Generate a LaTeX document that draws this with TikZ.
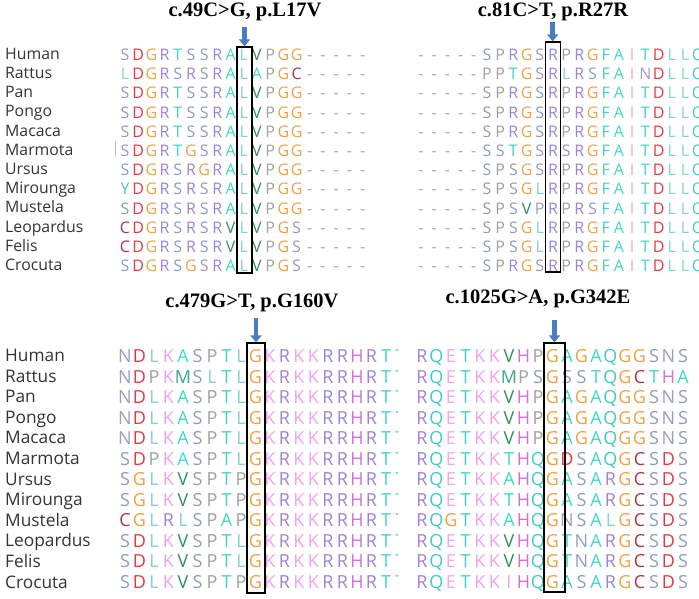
\documentclass[tikz,border=0pt]{standalone}
\usepackage{fontspec}
\usepackage{tikz}
\usetikzlibrary{arrows.meta}
\newfontfamily\seqfont{Open Sans}
\newfontfamily\capfont{Liberation Serif}

% residue colours
\definecolor{resA}{HTML}{3FD8C6}
\definecolor{resC}{HTML}{A8344E}
\definecolor{resD}{HTML}{E23A45}
\definecolor{resE}{HTML}{F0A8E8}
\definecolor{resF}{HTML}{45CEC8}
\definecolor{resG}{HTML}{EDA244}
\definecolor{resH}{HTML}{D46ED8}
\definecolor{resI}{HTML}{F2A6D6}
\definecolor{resK}{HTML}{EEA2EC}
\definecolor{resL}{HTML}{86CFD2}
\definecolor{resM}{HTML}{3AA58C}
\definecolor{resN}{HTML}{9A9CC2}
\definecolor{resP}{HTML}{A0A0A0}
\definecolor{resQ}{HTML}{3ECBC0}
\definecolor{resR}{HTML}{9F82D6}
\definecolor{resS}{HTML}{8E9CB8}
\definecolor{resT}{HTML}{3FD2C4}
\definecolor{resV}{HTML}{2F8F5A}
\definecolor{resY}{HTML}{3CC6C0}
\definecolor{gapgray}{HTML}{A8A8A8}
\definecolor{mutblue}{HTML}{4A7CC4}

\def\resfont{\fontsize{16}{16}\selectfont}

\tikzset{
  species/.style={anchor=base west, inner sep=0pt, text=black!80},
  residue/.style={anchor=base, inner sep=0pt, font=\seqfont\resfont},
  caption/.style={anchor=base, inner sep=0pt, font=\capfont\bfseries\fontsize{20.5}{20.5}\selectfont},
  colbox/.style={draw=black, line width=1.3pt, inner sep=0pt},
  mutarrow/.style={draw=mutblue, line width=4.5pt, -{Triangle[width=11pt,length=7pt]}}
}

% one row of residues: #1 row name, #2 first x, #3 baseline, #4 cell width, #5 residues
\newcommand\seqrow[5]{%
  \def\rowname{#1}\def\resx{#2}\def\resy{#3}\def\resw{#4}\def\resk{0}%
  \expandafter\putres#5\relax}
\def\putres#1{%
  \ifx#1\relax\else
    \if#1-\node[residue,text=gapgray] (\rowname-\resk) at (\resx,\resy) {-};%
    \else\node[residue,text=res#1] (\rowname-\resk) at (\resx,\resy) {#1};\fi
    \pgfmathsetmacro\resx{\resx+\resw}%
    \pgfmathtruncatemacro\resk{\resk+1}%
    \expandafter\putres
  \fi}

\begin{document}
\begin{tikzpicture}[x=1pt,y=-1pt]
\useasboundingbox (0,0) rectangle (699,598);

% top alignment
\foreach \sp/\seqa/\seqb [count=\i from 0] in {
  Human/SDGRTSSRALVPGG-----/-----SPRGSRPRGFAITDLLQ,
  Rattus/LDGRSRSRALAPGC-----/-----PPTGSRLRSFAINDLLQ,
  Pan/SDGRTSSRALVPGG-----/-----SPRGSRPRGFAITDLLQ,
  Pongo/SDGRTSSRALVPGG-----/-----SPRGSRPRGFAITDLLQ,
  Macaca/SDGRTSSRALVPGG-----/-----SPRGSRPRGFAITDLLQ,
  Marmota/SDGRTGSRALVPGG-----/-----SSTGSRSRGFAITDLLQ,
  Ursus/SDGRSRGRALVPGG-----/-----SPSGSRPRGFAITDLLQ,
  Mirounga/YDGRSRSRALVPGG-----/-----SPSGLRPRGFAITDLLQ,
  Mustela/SDGRSRSRALVPGG-----/-----SPSVPRPRSFAITDLLQ,
  Leopardus/CDGRSRSRVLVPGS-----/-----SPSGLRPRGFAITDLLQ,
  Felis/CDGRSRSRVLVPGS-----/-----SPSGLRPRGFAITDLLQ,
  Crocuta/SDGRSGSRALVPGS-----/-----SPRGSRPRGFAITDLLQ}{
    \node[species, font=\seqfont\fontsize{15.8}{15.8}\selectfont] (top-\sp) at (5,59.3+19.2*\i) {\sp};
    \pgfmathsetmacro\yb{60.5+19.2*\i}
    \seqrow{tl\i}{125}{\yb}{13.2}{\seqa}
    \seqrow{tr\i}{421}{\yb}{13.2}{\seqb}
}
% cursor mark
\draw[black!25, line width=0.6pt] (115,141) -- (115,157);

% bottom alignment
\def\resfont{\fontsize{18}{18}\selectfont}
\foreach \sp/\seqa/\seqb [count=\i from 0] in {
  Human/NDLKASPTLGKRKKRRHRTT/RQETKKVHPGAGAQGGSNS,
  Rattus/NDPKMSLTLGKRKKRRHRTT/RQETKKMPSGSSTQGCTHA,
  Pan/NDLKASPTLGKRKKRRHRTT/RQETKKVHPGAGAQGGSNS,
  Pongo/NDLKASPTLGKRKKRRHRTT/RQETKKVHPGAGAQGGSNS,
  Macaca/NDLKASPTLGKRKKRRHRTT/RQETKKVHPGAGAQGGSNS,
  Marmota/SDPKASPTLGKRKKRRHRTT/RQETKKTHQGDSAQGCSDS,
  Ursus/SGLKVSPTPGKRKKRRHRTT/RQETKKAHQGASARGCSDS,
  Mirounga/SGLKVSPTPGKRKKRRHRTT/RQETKKTHQGASARGCSDS,
  Mustela/CGLRLSPAPGKRKKRRHRTT/RQGTKKAHQGNSALGCSDS,
  Leopardus/SDLKVSPTLGKRKKRRHRTT/RQETKKVHQGTNARGCSDS,
  Felis/SDLKVSPTLGKRKKRRHRTT/RQETKKVHQGTNARGCSDS,
  Crocuta/SDLKVSPTPGKRKKRRHRTT/RQETKKIHQGASARGCSDS}{
    \node[species, font=\seqfont\fontsize{17.3}{17.3}\selectfont] (bot-\sp) at (5,361.5+20.6*\i) {\sp};
    \pgfmathsetmacro\yb{362.5+20.5*\i}
    \begin{scope}
      \clip (100,330) rectangle (397.5,598);
      \seqrow{bl\i}{125}{\yb}{14.5}{\seqa}
    \end{scope}
    \seqrow{br\i}{422}{\yb}{14.5}{\seqb}
}

% boxed columns
\node[colbox, minimum width=15pt, minimum height=226pt] (boxTL) at (244.5,160) {};
\node[colbox, minimum width=15pt, minimum height=230pt] (boxTR) at (552.7,157) {};
\node[colbox, minimum width=18pt, minimum height=250pt] (boxBL) at (256,468) {};
\node[colbox, minimum width=21pt, minimum height=249pt] (boxBR) at (554.5,467.5) {};

% arrows
\coordinate (arrTL) at (244.5,27);
\coordinate (arrTR) at (552.7,22);
\coordinate (arrBL) at (256,318);
\coordinate (arrBR) at (554.5,320);
\draw[mutarrow] (arrTL) -- (boxTL.north);
\draw[mutarrow] (arrTR) -- (boxTR.north);
\draw[mutarrow] (arrBL) -- (boxBL.north);
\draw[mutarrow] (arrBR) -- (boxBR.north);

% captions
\node[caption] (capTL) at (245,16) {c.49C>G, p.L17V};
\node[caption] (capTR) at (553,16) {c.81C>T, p.R27R};
\node[caption] (capBL) at (252,307) {c.479G>T, p.G160V};
\node[caption] (capBR) at (538,303) {c.1025G>A, p.G342E};

\end{tikzpicture}
\end{document}
